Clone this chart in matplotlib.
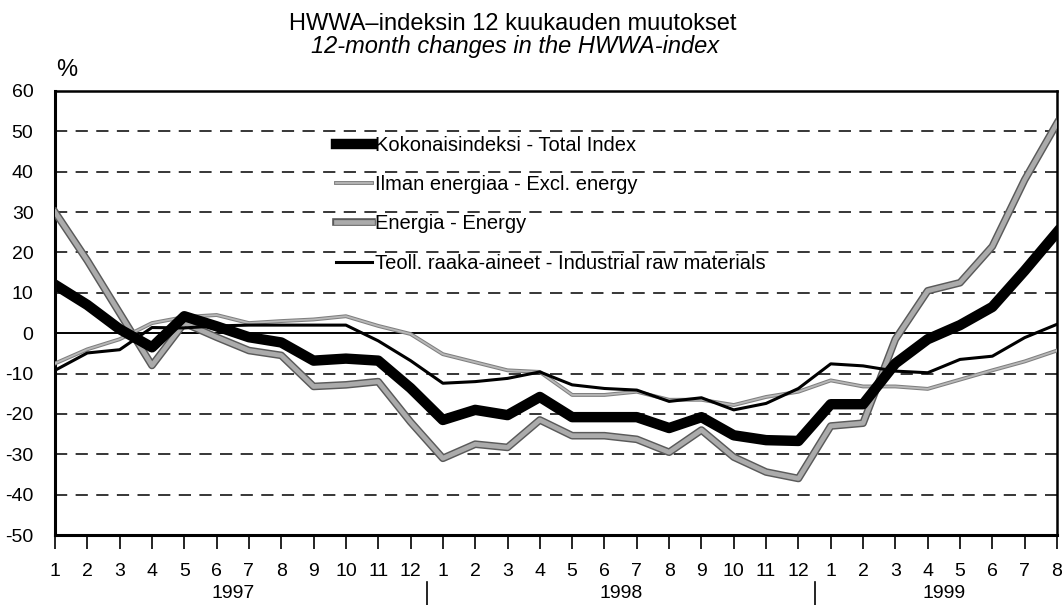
import numpy as np
import matplotlib
matplotlib.use("Agg")
import matplotlib.pyplot as plt
import matplotlib.patheffects as pe
import matplotlib.transforms as mtransforms

# months 1/1997 .. 8/1999
months = list(range(1, 13)) + list(range(1, 13)) + list(range(1, 9))
years = ["1997", "1998", "1999"]
year_counts = [12, 12, 8]

total = [12, 7, 1, -3.5, 4.2, 1.7, -1, -2.3, -6.8, -6.3, -6.8, -13.6,
         -21.5, -19, -20.3, -15.8, -20.8, -20.8, -20.8, -23.5, -20.8, -25.3, -26.5, -26.7,
         -17.6, -17.6, -7.5, -1.5, 2, 6.5, 15.5, 25]
excl_energy = [-7.5, -4, -1.5, 2.5, 4, 4.5, 2.5, 3, 3.4, 4.2, 1.8, -0.2,
               -5.2, -7.2, -9.2, -9.6, -15.3, -15.3, -14.5, -16.5, -16.5, -17.8, -15.8, -14.5,
               -11.7, -13.2, -13.2, -13.8, -11.5, -9.2, -7, -4.3]
energy = [30, 18, 5, -8, 2.5, -1, -4.3, -5.5, -13.2, -12.8, -12, -22,
          -31, -27.5, -28.3, -21.5, -25.4, -25.4, -26.3, -29.5, -24, -30.7, -34.4, -36,
          -23, -22.3, -1.5, 10.5, 12.5, 21.5, 38, 52]
industrial = [-9.2, -4.9, -4.1, 1.4, 1.3, 1.8, 2, 2, 2, 2, -1.9, -6.8,
              -12.4, -12, -11.2, -9.6, -12.8, -13.7, -14.1, -16.9, -16, -19, -17.4, -13.7,
              -7.6, -8.1, -9.4, -9.8, -6.5, -5.7, -1.1, 2.2]

labels = ["Kokonaisindeksi - Total Index",
          "Ilman energiaa - Excl. energy",
          "Energia - Energy",
          "Teoll. raaka-aineet - Industrial raw materials"]

plt.rcParams["font.family"] = ["Liberation Sans", "DejaVu Sans"]
plt.rcParams["axes.unicode_minus"] = False

fig = plt.figure(figsize=(10.62, 6.05), dpi=100)
ax = fig.add_axes([55 / 1062, 70 / 605, 1002 / 1062, 444 / 605])

x = np.arange(len(months))

# grid
for v in range(-40, 60, 10):
    if v == 0:
        ax.axhline(0, color="black", lw=1.4, zorder=1)
    else:
        ax.axhline(v, color="black", lw=1.1, ls=(0, (8, 5.5)), zorder=1)

l_energy, = ax.plot(x, energy, color="#ababab", lw=3.4, zorder=3,
                    path_effects=[pe.Stroke(linewidth=5.5, foreground="#5a5a5a"), pe.Normal()])
l_excl, = ax.plot(x, excl_energy, color="#b8b8b8", lw=1.3, zorder=4,
                  path_effects=[pe.Stroke(linewidth=2.8, foreground="#808080"), pe.Normal()])
l_ind, = ax.plot(x, industrial, color="black", lw=2.2, zorder=5)
l_total, = ax.plot(x, total, color="black", lw=7.5, zorder=6)

ax.legend([l_total, l_excl, l_energy, l_ind], labels, loc="upper left",
          bbox_to_anchor=(0.262, 0.939), frameon=False, fontsize=14.5,
          handlelength=1.8, handletextpad=0.15, labelspacing=1.0)

ax.set_xlim(0, len(months) - 1)
ax.set_ylim(-50, 60)
ax.set_yticks(range(-50, 70, 10))
ax.tick_params(axis="y", length=0, pad=15.5, labelsize=14)
ax.set_xticks(x)
ax.set_xticklabels([str(m) for m in months])
ax.tick_params(axis="x", direction="out", length=10, width=1.2, pad=10, labelsize=14)

for s in ["left", "bottom"]:
    ax.spines[s].set_linewidth(2.2)
for s in ["top", "right"]:
    ax.spines[s].set_linewidth(1.8)

# year labels and separators
trans = mtransforms.blended_transform_factory(ax.transData, ax.transAxes)
start = 0
for i, (yr, n) in enumerate(zip(years, year_counts)):
    ax.text(start + (n - 1) / 2, -0.131, yr, transform=trans, ha="center", va="center",
            fontsize=14)
    if i > 0:
        ax.plot([start - 0.5, start - 0.5], [-0.106, -0.16], transform=trans,
                color="black", lw=1.2, clip_on=False)
    start += n

fig.text(0.483, 1 - 24 / 605, "HWWA\u2013indeksin 12 kuukauden muutokset",
         ha="center", va="center", fontsize=17)
fig.text(0.485, 1 - 46 / 605, "12-month changes in the HWWA-index",
         ha="center", va="center", fontsize=17, style="italic")
fig.text(67 / 1062, 1 - 70 / 605, "%", ha="center", va="center", fontsize=17)

fig.savefig("out.png", dpi=100)
